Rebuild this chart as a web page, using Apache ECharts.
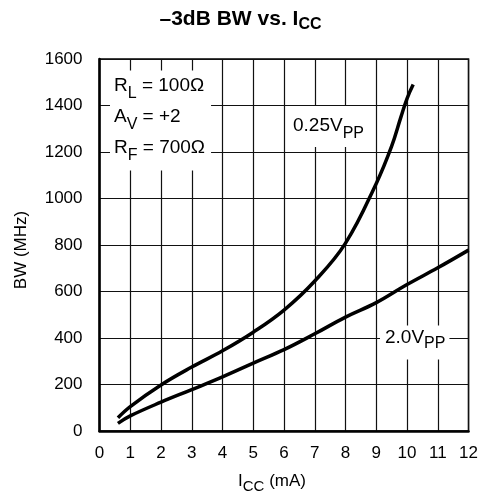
<!DOCTYPE html>
<html>
<head>
<meta charset="utf-8">
<script src="https://cdn.jsdelivr.net/npm/echarts@6/dist/echarts.min.js"></script>
<style>
  html, body { margin: 0; padding: 0; background: #fff; }
  #chart { width: 481px; height: 502px; }
</style>
</head>
<body>
<div id="chart"></div>
<script>
  // 0.25Vpp curve
  var icc025 = [0.6, 1, 2, 3, 4, 5, 6, 7, 8, 9, 9.5, 9.8, 10, 10.2];
  var bw025 = [57, 105, 198, 275, 345, 425, 520, 645, 808, 1065, 1225, 1350, 1430, 1490];
  // 2.0Vpp curve
  var icc20 = [0.6, 1, 2, 3, 4, 5, 6, 7, 8, 9, 10, 11, 12];
  var bw20 = [33, 65, 124, 178, 233, 292, 350, 418, 490, 552, 630, 702, 778];

  var xTicks = [0, 1, 2, 3, 4, 5, 6, 7, 8, 9, 10, 11, 12];
  var yTicks = [0, 200, 400, 600, 800, 1000, 1200, 1400, 1600];

  var font = 'Liberation Sans';

  function pairs(xs, ys) {
    return xs.map(function (x, i) { return [x, ys[i]]; });
  }

  var chart = echarts.init(document.getElementById('chart'));

  // rich styles for labels with subscripts
  var annRich = {
    n: { fontSize: 19, fontFamily: font, color: '#000', lineHeight: 31 },
    s: { fontSize: 16, fontFamily: font, color: '#000', lineHeight: 31, padding: [16, 0, 0, 0] }
  };
  var annRich2 = {
    n: { fontSize: 19, fontFamily: font, color: '#000', lineHeight: 24 },
    s: { fontSize: 16, fontFamily: font, color: '#000', lineHeight: 24, padding: [13, 0, 0, 0] }
  };

  var option = {
    animation: false,
    backgroundColor: '#fff',
    title: {
      left: 'center',
      top: 6,
      padding: 0,
      text: '{n|–3dB BW vs. I}{s|CC}',
      textStyle: {
        fontSize: 21,
        fontWeight: 'bold',
        fontFamily: font,
        color: '#000',
        rich: {
          n: { fontSize: 21, fontWeight: 'bold', fontFamily: font, color: '#000', lineHeight: 26 },
          s: { fontSize: 16, fontWeight: 'bold', fontFamily: font, color: '#000', lineHeight: 26, padding: [12, 0, 0, 0] }
        }
      }
    },
    grid: {
      left: 99.5,
      right: 11.5,
      top: 59,
      bottom: 71,
      show: true,
      borderColor: '#000',
      borderWidth: 1.5
    },
    xAxis: {
      type: 'value',
      min: xTicks[0],
      max: xTicks[xTicks.length - 1],
      interval: 1,
      name: '{n|I}{s|CC}{n| (mA)}',
      nameLocation: 'middle',
      nameGap: 38,
      nameTextStyle: {
        padding: [0, 24, 0, 0],
        rich: {
          n: { fontSize: 17, fontFamily: font, color: '#000', lineHeight: 24 },
          s: { fontSize: 15, fontFamily: font, color: '#000', lineHeight: 24, padding: [12, 0, 0, 0] }
        }
      },
      axisLine: { lineStyle: { color: '#000', width: 2.5 } },
      axisTick: { show: false },
      axisLabel: { fontSize: 17, fontFamily: font, color: '#000', margin: 14 },
      splitLine: { show: true, lineStyle: { color: '#111', width: 1.2 } }
    },
    yAxis: {
      type: 'value',
      min: yTicks[0],
      max: yTicks[yTicks.length - 1],
      interval: 200,
      name: 'BW (MHz)',
      nameLocation: 'middle',
      nameGap: 70,
      nameTextStyle: { fontSize: 17, fontFamily: font, color: '#000', padding: [0, 10, 0, 0] },
      axisLine: { show: true, lineStyle: { color: '#000', width: 2.5 } },
      axisTick: { show: false },
      axisLabel: {
        fontSize: 17, fontFamily: font, color: '#000', margin: 17,
        formatter: function (v) { return String(v); }
      },
      splitLine: { show: true, lineStyle: { color: '#111', width: 1.2 } }
    },
    graphic: [
      {
        type: 'text',
        left: 110,
        top: 70,
        z: 10,
        style: {
          text: '{n|R}{s|L}{n| = 100Ω}\n{n|A}{s|V}{n| = +2}\n{n|R}{s|F}{n| = 700Ω}',
          rich: annRich,
          backgroundColor: '#fff',
          padding: [0, 6, 7, 4]
        }
      },
      {
        type: 'text',
        left: 288,
        top: 106,
        z: 10,
        style: {
          text: '{n|0.25V}{s|PP}',
          rich: annRich,
          backgroundColor: '#fff',
          padding: [4, 4, 6, 5]
        }
      },
      {
        type: 'text',
        left: 380,
        top: 323,
        z: 10,
        style: {
          text: '{n|2.0V}{s|PP}',
          rich: annRich2,
          backgroundColor: '#fff',
          padding: [0, 4, 10, 5]
        }
      }
    ],
    series: [
      {
        name: '0.25VPP',
        type: 'line',
        data: pairs(icc025, bw025),
        smooth: 0.4,
        symbol: 'none',
        lineStyle: { color: '#000', width: 3.5 },
        z: 5
      },
      {
        name: '2.0VPP',
        type: 'line',
        data: pairs(icc20, bw20),
        smooth: 0.4,
        symbol: 'none',
        lineStyle: { color: '#000', width: 3.5 },
        z: 5
      }
    ]
  };

  chart.setOption(option);
</script>
</body>
</html>
